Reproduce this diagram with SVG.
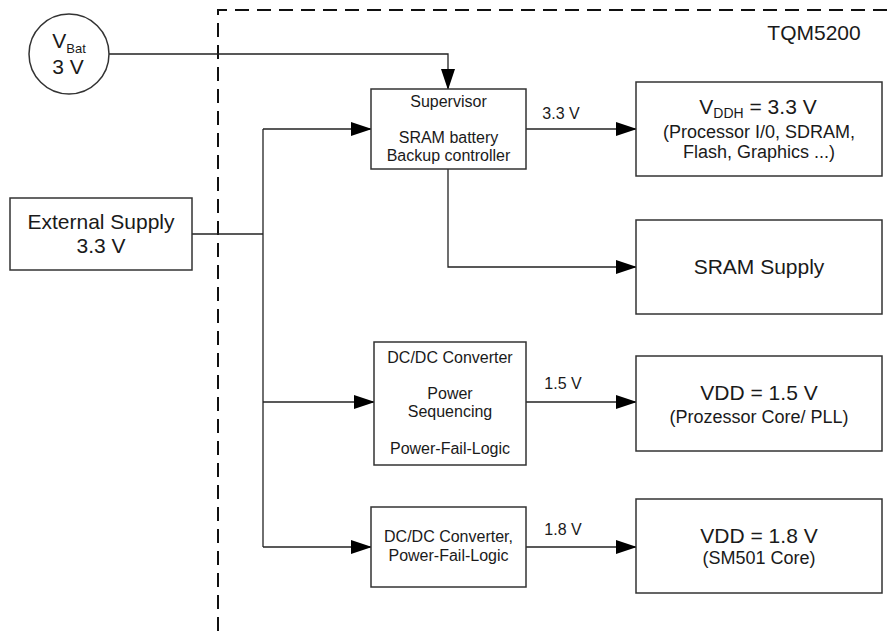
<svg xmlns="http://www.w3.org/2000/svg" width="889" height="631" viewBox="0 0 889 631">
<defs>
<marker id="arr" markerUnits="userSpaceOnUse" markerWidth="21" markerHeight="14" refX="20" refY="7" orient="auto">
<path d="M0,0 L21,7 L0,14 Z" fill="#000"/>
</marker>
</defs>
<style>
text{font-family:"Liberation Sans",Arial,sans-serif;fill:#1a1a1a}
.box{fill:#fff;stroke:#333;stroke-width:1.5}
.ln{fill:none;stroke:#222;stroke-width:1.3}
.s16{font-size:16px}
.s18{font-size:18px}
.s21{font-size:21px}
</style>
<rect width="889" height="631" fill="#fff"/>
<g id="border">
<path d="M218,631 L218,10 L889,10" fill="none" stroke="#111" stroke-width="2" stroke-dasharray="14 8"/>
<text x="814" y="40" class="s21" text-anchor="middle">TQM5200</text>
</g>
<g id="connectors">
<path class="ln" d="M109,54 L448,54 L448,89" marker-end="url(#arr)"/>
<path class="ln" d="M192,234 L263,234"/>
<path class="ln" d="M263,129 L263,547"/>
<path class="ln" d="M263,129 L371,129" marker-end="url(#arr)"/>
<path class="ln" d="M263,402 L374,402" marker-end="url(#arr)"/>
<path class="ln" d="M263,547 L371,547" marker-end="url(#arr)"/>
<path class="ln" d="M526,129 L636,129" marker-end="url(#arr)"/>
<path class="ln" d="M448,169 L448,267 L636,267" marker-end="url(#arr)"/>
<path class="ln" d="M526,402 L636,402" marker-end="url(#arr)"/>
<path class="ln" d="M526,547 L636,547" marker-end="url(#arr)"/>
<text x="561" y="119" class="s16" text-anchor="middle">3.3 V</text>
<text x="563" y="389" class="s16" text-anchor="middle">1.5 V</text>
<text x="563" y="535" class="s16" text-anchor="middle">1.8 V</text>
</g>
<g id="vbat">
<circle cx="69" cy="54" r="40" fill="#fff" stroke="#333" stroke-width="1.5"/>
<text x="69" y="48" class="s21" text-anchor="middle">V<tspan font-size="13" dy="5">Bat</tspan></text>
<text x="68" y="74" class="s21" text-anchor="middle">3 V</text>
</g>
<g id="external">
<rect class="box" x="10" y="198" width="182" height="72"/>
<text x="101" y="229" class="s21" text-anchor="middle">External Supply</text>
<text x="101" y="253" class="s21" text-anchor="middle">3.3 V</text>
</g>
<g id="supervisor">
<rect class="box" x="371" y="89" width="155" height="80"/>
<text x="448.5" y="107" class="s16" text-anchor="middle">Supervisor</text>
<text x="448.5" y="143" class="s16" text-anchor="middle">SRAM battery</text>
<text x="448.5" y="161" class="s16" text-anchor="middle">Backup controller</text>
</g>
<g id="vddh">
<rect class="box" x="636" y="82" width="246" height="94"/>
<text x="758" y="114" class="s21" text-anchor="middle">V<tspan font-size="14" dy="4">DDH</tspan><tspan dy="-4"> = 3.3 V</tspan></text>
<text x="759" y="138" class="s18" text-anchor="middle">(Processor I/0, SDRAM,</text>
<text x="759" y="158" class="s18" text-anchor="middle">Flash, Graphics ...)</text>
</g>
<g id="sram">
<rect class="box" x="636" y="220" width="246" height="94"/>
<text x="759" y="274" class="s21" text-anchor="middle">SRAM Supply</text>
</g>
<g id="dcdc1">
<rect class="box" x="374" y="342" width="152" height="123"/>
<text x="450" y="363" class="s16" text-anchor="middle">DC/DC Converter</text>
<text x="450" y="399" class="s16" text-anchor="middle">Power</text>
<text x="450" y="417" class="s16" text-anchor="middle">Sequencing</text>
<text x="450" y="454" class="s16" text-anchor="middle">Power-Fail-Logic</text>
</g>
<g id="vdd15">
<rect class="box" x="636" y="356" width="246" height="95"/>
<text x="759" y="400" class="s21" text-anchor="middle">VDD = 1.5 V</text>
<text x="759" y="423" class="s18" text-anchor="middle">(Prozessor Core/ PLL)</text>
</g>
<g id="dcdc2">
<rect class="box" x="371" y="507" width="155" height="80"/>
<text x="448.5" y="542" class="s16" text-anchor="middle">DC/DC Converter,</text>
<text x="448.5" y="561" class="s16" text-anchor="middle">Power-Fail-Logic</text>
</g>
<g id="vdd18">
<rect class="box" x="636" y="499" width="246" height="94"/>
<text x="759" y="543" class="s21" text-anchor="middle">VDD = 1.8 V</text>
<text x="759" y="564" class="s18" text-anchor="middle">(SM501 Core)</text>
</g>
</svg>
